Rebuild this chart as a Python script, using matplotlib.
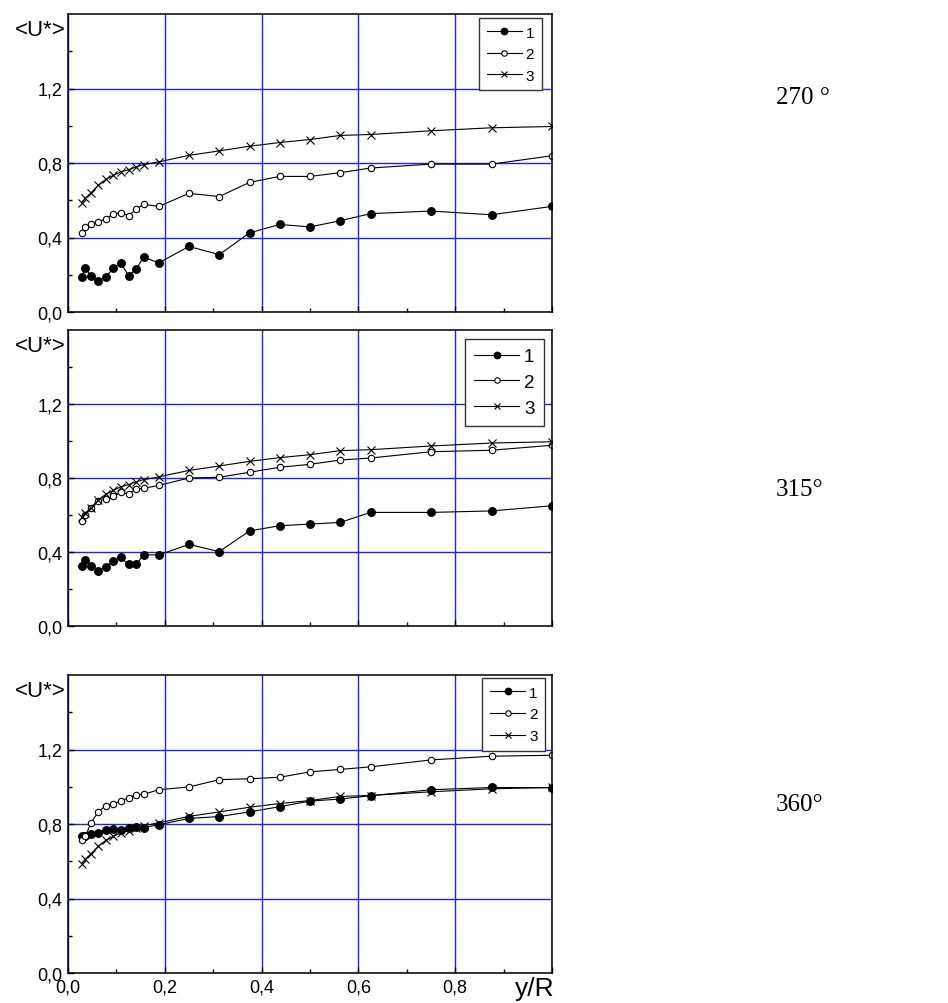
import matplotlib
matplotlib.use('Agg')
import matplotlib.pyplot as plt
from matplotlib.ticker import FixedLocator

plt.rcParams['font.family'] = ['Liberation Sans', 'DejaVu Sans']

# ---------------- data ----------------
y_over_R = [0.028, 0.036, 0.047, 0.0625, 0.078, 0.094, 0.109, 0.125, 0.141, 0.156,
            0.1875, 0.25, 0.3125, 0.375, 0.4375, 0.5, 0.5625, 0.625, 0.75, 0.875, 1.0]

# 270 degrees
u1_270 = [0.19, 0.237, 0.195, 0.165, 0.19, 0.235, 0.264, 0.195, 0.23, 0.294, 0.264,
          0.352, 0.308, 0.425, 0.47, 0.457, 0.49, 0.528, 0.542, 0.522, 0.567]
u2_270 = [0.425, 0.456, 0.47, 0.483, 0.50, 0.527, 0.533, 0.518, 0.551, 0.578, 0.567,
          0.637, 0.62, 0.696, 0.728, 0.728, 0.748, 0.773, 0.794, 0.794, 0.839]
# reference profile (series 3), same in all panels
u3_ref = [0.587, 0.61, 0.639, 0.68, 0.712, 0.734, 0.752, 0.764, 0.779, 0.791, 0.806,
          0.841, 0.865, 0.89, 0.91, 0.926, 0.948, 0.953, 0.973, 0.989, 0.996]

# 315 degrees
u1_315 = [0.326, 0.359, 0.326, 0.299, 0.319, 0.351, 0.371, 0.333, 0.333, 0.384, 0.384,
          0.441, 0.402, 0.514, 0.542, 0.551, 0.560, 0.614, 0.614, 0.622, 0.650]
u2_315 = [0.566, 0.600, 0.636, 0.677, 0.685, 0.701, 0.722, 0.714, 0.741, 0.744, 0.760,
          0.800, 0.804, 0.831, 0.858, 0.874, 0.897, 0.908, 0.942, 0.950, 0.977]

# 360 degrees
u1_360 = [0.734, 0.738, 0.745, 0.749, 0.770, 0.774, 0.770, 0.781, 0.784, 0.781, 0.796,
          0.830, 0.840, 0.865, 0.893, 0.923, 0.934, 0.952, 0.984, 0.996, 0.995]
u2_360 = [0.714, 0.734, 0.804, 0.866, 0.898, 0.907, 0.923, 0.941, 0.957, 0.959, 0.984,
          0.999, 1.038, 1.043, 1.051, 1.080, 1.093, 1.107, 1.144, 1.164, 1.169]

angle_labels = ['270 °', '315°', '360°']
series_labels = ['1', '2', '3']
y_major = [0.0, 0.4, 0.8, 1.2]
y_minor = [0.2, 0.6, 1.0, 1.4]
y_tick_labels = ['0,0', '0,4', '0,8', '1,2']
x_major = [0.0, 0.2, 0.4, 0.6, 0.8, 1.0]
x_minor = [0.1, 0.3, 0.5, 0.7, 0.9]
x_tick_labels = ['0,0', '0,2', '0,4', '0,6', '0,8', '']
y_label = '<U*>'
x_label = 'y/R'

panels = [(u1_270, u2_270, u3_ref), (u1_315, u2_315, u3_ref), (u1_360, u2_360, u3_ref)]

# ---------------- layout ----------------
W, H = 948, 1004
fig = plt.figure(figsize=(W / 100, H / 100), dpi=100)

left_px, right_px = 68, 552
panel_px = [(15, 313), (331, 627), (676, 974)]          # top, bottom in pixels
legend_anchor = [(0.979, 0.987), (0.983, 0.970), (0.986, 0.990)]
legend_font = [11, 13.5, 11]
legend_bpad = [0.5, 0.5, 0.5]
legend_lspace = [0.5, 0.45, 0.5]
legend_hlen = [2.3, 2.4, 2.3]
label_y_px = [98, 490, 805]

grid_color = '#2020ff'

for i, ((u1, u2, u3), (tp, bp)) in enumerate(zip(panels, panel_px)):
    ax = fig.add_axes([left_px / W, 1 - bp / H, (right_px - left_px) / W, (bp - tp) / H])
    ax.set_xlim(0, 1.0)
    ax.set_ylim(0, 1.6)
    ax.set_axisbelow(True)

    ax.plot(y_over_R, u1, color='k', lw=0.8, marker='o', ms=5.4, mfc='k', mec='k',
            label=series_labels[0])
    ax.plot(y_over_R, u2, color='k', lw=0.8, marker='o', ms=4.6, mfc='white', mec='k',
            mew=0.8, label=series_labels[1])
    ax.plot(y_over_R, u3, color='k', lw=0.8, marker='x', ms=5.8, mew=0.8,
            label=series_labels[2])

    ax.xaxis.set_major_locator(FixedLocator(x_major))
    ax.xaxis.set_minor_locator(FixedLocator(x_minor))
    ax.yaxis.set_major_locator(FixedLocator(y_major))
    ax.yaxis.set_minor_locator(FixedLocator(y_minor))
    ax.set_yticklabels(y_tick_labels)
    if i == 2:
        ax.set_xticklabels(x_tick_labels)
        ax.text(0.965, -0.052, x_label, transform=ax.transAxes, ha='center',
                va='center', fontsize=19)
    else:
        ax.set_xticklabels([])

    ax.tick_params(which='both', direction='in', top=False, right=False,
                   labelsize=13, pad=4, width=1.0, color='k')
    ax.tick_params(which='major', length=4)
    ax.tick_params(which='minor', length=3)

    ax.grid(which='major', color=grid_color, lw=1.0)
    for s in ax.spines.values():
        s.set_linewidth(1.1)
        s.set_color('k')

    ax.text(-0.004, 1 - 16 / (bp - tp), y_label, transform=ax.transAxes,
            ha='right', va='center', fontsize=16)

    leg = ax.legend(loc='upper right', bbox_to_anchor=legend_anchor[i],
                    borderaxespad=0, fontsize=legend_font[i], frameon=True,
                    fancybox=False, edgecolor='#333333', framealpha=1,
                    handlelength=legend_hlen[i], handletextpad=0.25,
                    labelspacing=legend_lspace[i], borderpad=legend_bpad[i],
                    markerscale=0.85)
    leg.get_frame().set_linewidth(1.0)

    fig.text(776 / W, 1 - label_y_px[i] / H, angle_labels[i],
             family=['Liberation Serif', 'DejaVu Serif'], fontsize=18,
             ha='left', va='center')

fig.savefig('out.png', dpi=100)
